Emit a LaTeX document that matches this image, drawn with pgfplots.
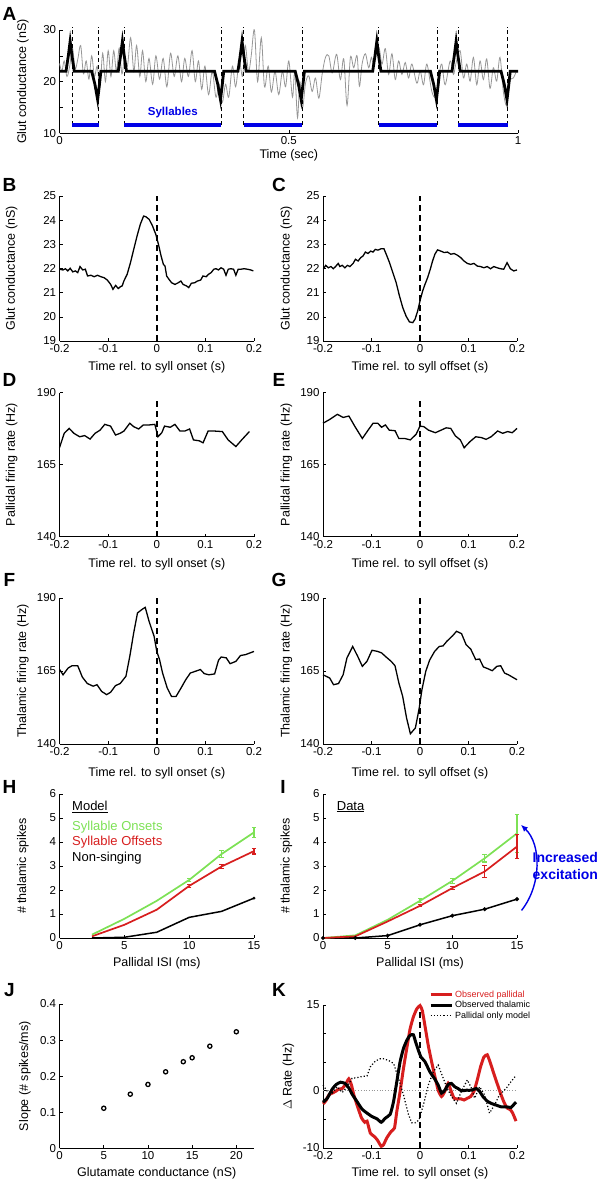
\documentclass[border=0pt]{standalone}
\usepackage{fontspec}
\setmainfont{Liberation Sans}
\usepackage{pgfplots}
\pgfplotsset{compat=1.18}
\usetikzlibrary{arrows.meta}

\definecolor{sylblue}{RGB}{0,0,230}
\definecolor{lgreen}{RGB}{125,225,85}
\definecolor{mred}{RGB}{215,30,30}
\definecolor{tgray}{RGB}{150,150,150}

\pgfplotsset{
  panel/.style={
    scale only axis, anchor=south west,
    axis x line*=bottom, axis y line*=left,
    tick align=inside, major tick length=3pt,
    every tick/.append style={black, line width=0.6pt},
    axis line style={line width=0.7pt},
    tick label style={font=\fontsize{11.5}{12}\selectfont},
    label style={font=\fontsize{12.5}{14}\selectfont},
    /pgf/number format/assume math mode=true,
    clip=false,
  },
  ylab/.style={ylabel style={at={([xshift=#1]axis description cs:0,0.5)}, anchor=center}},
  xlab/.style={xlabel style={at={([yshift=#1]axis description cs:0.5,0)}, anchor=center}},
  reltime/.style={xmin=-0.2, xmax=0.2, xtick={-0.2,-0.1,0,0.1,0.2},
    xticklabels={-0.2,-0.1,0,0.1,0.2}},
  zline/.style={black, line width=1.6pt, dash pattern=on 6pt off 4pt, forget plot},
  trace/.style={black, line width=1.3pt},
}

\begin{document}
\begin{tikzpicture}
\useasboundingbox (0pt,0pt) rectangle (604pt,1184pt);

% ---------- A ----------
\begin{axis}[panel, at={(59.6pt,1050.7pt)}, width=458.4pt, height=103.3pt,
  xmin=0, xmax=1, ymin=10, ymax=30,
  xtick={0,0.5,1}, xticklabels={0,0.5,1},
  ytick={10,15,20,25,30}, yticklabels={10,,20,,30},
  xlabel={Time (sec)}, ylabel={Glut conductance (nS)}, ylab=-36.6pt, xlab=-22pt]
\addplot[tgray, line width=0.8pt, smooth, tension=0.55] coordinates {
(0.000,23.5) (0.005,22.0) (0.010,24.0) (0.016,21.0) (0.022,23.0) (0.028,26.5)
(0.034,22.5) (0.040,24.5) (0.046,27.0) (0.052,21.5) (0.058,24.0) (0.064,20.5)
(0.070,25.0) (0.076,21.0) (0.082,23.0) (0.088,19.0) (0.094,25.5) (0.100,20.0)
(0.106,26.0) (0.112,21.0) (0.118,26.0) (0.124,22.0) (0.130,26.5) (0.136,21.5)
(0.142,25.0) (0.148,23.0) (0.155,28.5) (0.162,22.0) (0.168,27.0) (0.175,21.0)
(0.181,26.0) (0.188,20.0) (0.195,24.5) (0.203,19.5) (0.210,25.0) (0.218,20.5)
(0.226,24.5) (0.234,19.0) (0.242,25.5) (0.250,21.0) (0.258,25.0) (0.266,20.0)
(0.273,24.5) (0.281,21.0) (0.289,26.0) (0.296,20.0) (0.303,24.0) (0.310,18.5)
(0.317,23.0) (0.325,17.5) (0.333,22.0) (0.341,17.0) (0.348,19.5) (0.355,16.0)
(0.362,19.5) (0.369,17.0) (0.377,23.0) (0.384,19.0) (0.392,24.0) (0.399,21.0)
(0.405,27.0) (0.412,22.0) (0.418,25.0) (0.425,30.0) (0.432,20.0) (0.440,28.5)
(0.447,19.0) (0.455,23.0) (0.462,18.0) (0.470,22.0) (0.478,17.5) (0.486,22.0)
(0.493,19.0) (0.500,24.0) (0.508,17.0) (0.513,22.0) (0.519,13.0) (0.524,20.0)
(0.530,15.0) (0.5365,19.7) (0.5437,21.1) (0.5510,18.1) (0.5582,20.7) (0.5655,16.8)
(0.5727,21.4) (0.5800,24.7) (0.5872,25.0) (0.5945,21.7) (0.6017,24.7) (0.6054,25.0)
(0.6126,20.4) (0.6199,24.4) (0.6271,15.4) (0.6344,24.7) (0.6416,22.7) (0.6489,25.0)
(0.6540,19.1) (0.6598,23.4) (0.6671,25.4) (0.6743,22.7) (0.6801,24.7) (0.6852,23.4)
(0.6960,26.7) (0.7033,23.4) (0.7105,26.4) (0.7178,21.4) (0.7250,25.4) (0.7323,20.4)
(0.7395,24.0) (0.7468,21.4) (0.7540,23.7) (0.7613,20.7) (0.7685,23.4) (0.7794,19.7)
(0.7866,22.1) (0.7939,19.4) (0.8012,23.4) (0.8120,18.1) (0.8208,17.1) (0.8280,21.4)
(0.8338,23.4) (0.8411,19.4) (0.8520,24.0) (0.8592,21.4) (0.8643,23.4) (0.8737,26.0)
(0.8810,20.7) (0.8882,23.4) (0.8955,20.1) (0.9027,24.7) (0.9100,19.4) (0.9172,24.0)
(0.9245,20.4) (0.9317,24.4) (0.9390,18.7) (0.9462,22.7) (0.9535,20.1) (0.9607,24.7)
(0.9680,18.1) (0.9753,15.4) (0.9825,20.1) (0.9898,20.7) (0.9970,22.1)
};
\addplot[black, line width=2.8pt] coordinates {
(0,22) (0.014,22) (0.019,25) (0.023,27.8) (0.027,25) (0.032,22)
(0.070,22) (0.077,19.5) (0.083,16.5) (0.087,19.5) (0.090,22)
(0.128,22) (0.133,25) (0.137,27.8) (0.141,25) (0.146,22)
(0.338,22) (0.345,19.5) (0.351,16.5) (0.355,19.5) (0.358,22)
(0.389,22) (0.394,25) (0.398,27.8) (0.402,25) (0.407,22)
(0.514,22) (0.521,19.5) (0.527,16.5) (0.531,19.5) (0.534,22)
(0.683,22) (0.688,25) (0.692,27.8) (0.696,25) (0.701,22)
(0.809,22) (0.816,19.5) (0.822,16.5) (0.826,19.5) (0.829,22)
(0.856,22) (0.861,25) (0.865,27.8) (0.869,25) (0.874,22)
(0.963,22) (0.970,19.5) (0.976,16.5) (0.980,19.5) (0.983,22) (1,22)
};
\foreach \t in {0.027,0.085,0.141,0.353,0.402,0.529,0.696,0.824,0.869,0.978}{
  \edef\tmp{\noexpand\addplot[black, line width=0.9pt, dash pattern=on 4pt off 3pt]
    coordinates {(\t,11.6) (\t,30.6)};}
  \tmp
}
\addplot[sylblue, line width=3.5pt] coordinates {(0.027,11.6) (0.085,11.6)};
\addplot[sylblue, line width=3.5pt] coordinates {(0.141,11.6) (0.353,11.6)};
\addplot[sylblue, line width=3.5pt] coordinates {(0.402,11.6) (0.529,11.6)};
\addplot[sylblue, line width=3.5pt] coordinates {(0.696,11.6) (0.824,11.6)};
\addplot[sylblue, line width=3.5pt] coordinates {(0.869,11.6) (0.978,11.6)};
\node[sylblue, font=\bfseries\fontsize{11.5}{12}\selectfont] at (axis cs:0.247,14.1) {Syllables};
\end{axis}

% ---------- B ----------
\begin{axis}[panel, reltime, at={(59.6pt,843pt)}, width=194.4pt, height=145pt,
  ymin=19, ymax=25, ytick={19,...,25},
  xlabel={Time rel. to syll onset (s)}, ylabel={Glut conductance (nS)}, ylab=-48pt, xlab=-26pt]
\addplot[zline] coordinates {(0,19) (0,25)};
\addplot[trace] coordinates {
(-0.2,21.97) (-0.1932,21.94) (-0.1878,21.99) (-0.1831,21.90) (-0.1783,22.01) (-0.1729,21.86)
(-0.1675,21.90) (-0.1627,21.83) (-0.1580,22.08) (-0.1525,21.94) (-0.1471,21.97) (-0.1424,21.69)
(-0.1356,21.72) (-0.1288,21.66) (-0.1220,21.72) (-0.1153,21.66) (-0.1085,21.62) (-0.1017,21.52)
(-0.0949,21.34) (-0.0902,21.14) (-0.0847,21.30) (-0.0793,21.17) (-0.0746,21.25) (-0.0712,21.28)
(-0.0678,21.48) (-0.0610,21.76) (-0.0542,22.24) (-0.0475,22.79) (-0.0407,23.34) (-0.0339,23.83)
(-0.0271,24.17) (-0.0224,24.14) (-0.0156,24.03) (-0.0088,23.76) (-0.0020,23.41) (0.0034,23.0)
(0.0088,22.52) (0.0136,22.17) (0.0169,22.10) (0.0203,21.69) (0.0251,21.55) (0.0305,21.41)
(0.0373,21.34) (0.0441,21.41) (0.0495,21.48) (0.0542,21.34) (0.0610,21.28) (0.0658,21.21)
(0.0712,21.39) (0.0780,21.41) (0.0834,21.48) (0.0902,21.52) (0.0949,21.69) (0.1017,21.66)
(0.1064,21.76) (0.1119,21.83) (0.1173,21.97) (0.1220,21.99) (0.1268,21.94) (0.1322,22.03)
(0.1376,21.97) (0.1424,21.72) (0.1471,21.97) (0.1525,21.99) (0.1580,21.97) (0.1627,21.72)
(0.1675,21.97) (0.1729,21.97) (0.1797,21.99) (0.1864,21.97) (0.1932,21.94) (0.1986,21.90)
};
\end{axis}

% ---------- C ----------
\begin{axis}[panel, reltime, at={(323pt,843pt)}, width=194pt, height=145pt,
  ymin=19, ymax=25, ytick={19,...,25},
  xlabel={Time rel. to syll offset (s)}, ylabel={Glut conductance (nS)}, ylab=-36.5pt, xlab=-26pt]
\addplot[zline] coordinates {(0,19) (0,25)};
\addplot[trace] coordinates {
(-0.1993,21.97) (-0.1945,22.13) (-0.1891,22.03) (-0.1836,22.08) (-0.1788,21.99) (-0.1741,22.08)
(-0.1686,22.21) (-0.1652,22.08) (-0.1604,22.13) (-0.1549,22.03) (-0.1495,22.13) (-0.1447,22.08)
(-0.1379,22.21) (-0.1331,22.38) (-0.1276,22.31) (-0.1222,22.45) (-0.1174,22.52) (-0.1126,22.68)
(-0.1072,22.62) (-0.1017,22.72) (-0.0969,22.68) (-0.0922,22.79) (-0.0867,22.76) (-0.0799,22.82)
(-0.0744,22.82) (-0.0696,22.59) (-0.0628,22.24) (-0.0560,21.83) (-0.0491,21.41) (-0.0423,20.86)
(-0.0355,20.38) (-0.0287,20.03) (-0.0218,19.79) (-0.0150,19.76) (-0.0102,19.90) (-0.0048,20.24)
(0.0007,20.72) (0.0055,21.07) (0.0102,21.34) (0.0157,21.62) (0.0212,21.97) (0.0259,22.31)
(0.0307,22.59) (0.0362,22.77) (0.0430,22.72) (0.0498,22.66) (0.0567,22.68) (0.0635,22.59)
(0.0703,22.62) (0.0771,22.55) (0.0840,22.45) (0.0908,22.31) (0.0976,22.21) (0.1044,22.17)
(0.1113,22.21) (0.1181,22.10) (0.1249,22.08) (0.1317,22.03) (0.1386,22.08) (0.1454,21.99)
(0.1522,22.08) (0.1590,22.03) (0.1659,21.99) (0.1727,21.97) (0.1795,22.24) (0.1863,21.99)
(0.1932,21.90) (0.2,21.94)
};
\end{axis}

% ---------- D ----------
\begin{axis}[panel, reltime, at={(59.6pt,647.3pt)}, width=194.4pt, height=144pt,
  ymin=140, ymax=190, ytick={140,165,190},
  xlabel={Time rel. to syll onset (s)}, ylabel={Pallidal firing rate (Hz)}, ylab=-48pt, xlab=-28pt]
\addplot[zline] coordinates {(0,140) (0,188)};
\addplot[trace] coordinates {
(-0.2,171.0) (-0.1905,175.9) (-0.1802,177.6) (-0.1706,175.9) (-0.1587,174.7) (-0.1484,175.1)
(-0.1373,173.9) (-0.1270,175.9) (-0.1167,177.0) (-0.1071,179.0) (-0.0952,178.4) (-0.0849,175.3)
(-0.0754,175.9) (-0.0675,176.7) (-0.0556,179.4) (-0.0476,178.2) (-0.0373,177.4) (-0.0278,178.8)
(-0.0159,178.8) (-0.0040,179.0) (0.0024,174.7) (0.0103,176.1) (0.0159,178.4) (0.0278,178.0)
(0.0373,179.0) (0.0476,176.7) (0.0579,176.7) (0.0675,177.4) (0.0754,173.6) (0.0873,173.3)
(0.0952,172.6) (0.1056,176.7) (0.1167,176.7) (0.1349,176.5) (0.1468,173.6) (0.1627,171.3)
(0.1746,173.6) (0.1905,176.5)
};
\end{axis}

% ---------- E ----------
\begin{axis}[panel, reltime, at={(323pt,647.3pt)}, width=194pt, height=144pt,
  ymin=140, ymax=190, ytick={140,165,190},
  xlabel={Time rel. to syll offset (s)}, ylabel={Pallidal firing rate (Hz)}, ylab=-36.5pt, xlab=-28pt]
\addplot[zline] coordinates {(0,140) (0,188)};
\addplot[trace] coordinates {
(-0.2,179.4) (-0.1862,180.7) (-0.1704,182.5) (-0.1585,181.4) (-0.1466,181.9) (-0.1347,178.4)
(-0.1189,174.1) (-0.1070,177.0) (-0.0967,179.4) (-0.0872,179.4) (-0.0792,178.0) (-0.0713,178.8)
(-0.0634,177.0) (-0.0515,176.8) (-0.0436,174.1) (-0.0317,174.1) (-0.0198,173.6) (-0.0079,175.6)
(0,178.4) (0.0079,178.2) (0.0174,177.0) (0.0317,176.1) (0.0436,177.0) (0.0539,177.8)
(0.0634,177.6) (0.0729,175.0) (0.0832,173.6) (0.0911,170.9) (0.1030,173.0) (0.1149,174.7)
(0.1268,174.4) (0.1363,173.8) (0.1466,174.7) (0.1601,176.7) (0.1704,175.9) (0.1807,176.5)
(0.1902,176.1) (0.2,177.6)
};
\end{axis}

% ---------- F ----------
\begin{axis}[panel, reltime, at={(59.6pt,440pt)}, width=194.4pt, height=146pt,
  ymin=140, ymax=190, ytick={140,165,190},
  xlabel={Time rel. to syll onset (s)}, ylabel={Thalamic firing rate (Hz)}, ylab=-36.6pt, xlab=-29pt]
\addplot[zline] coordinates {(0,140) (0,190)};
\addplot[trace] coordinates {
(-0.2,165.5) (-0.1929,163.7) (-0.1825,166.0) (-0.1746,166.8) (-0.1627,166.8) (-0.1532,162.9)
(-0.1429,160.7) (-0.1310,159.8) (-0.1230,160.3) (-0.1135,158.0) (-0.1032,156.9) (-0.0952,157.7)
(-0.0849,160.0) (-0.0754,160.7) (-0.0635,163.2) (-0.0556,170.0) (-0.0476,178.0) (-0.0397,184.9)
(-0.0294,186.2) (-0.0238,186.8) (-0.0159,182.0) (-0.0056,176.9) (0,171.7) (0.0056,168.9)
(0.0119,164.3) (0.0214,159.2) (0.0302,156.3) (0.0397,156.3) (0.0500,159.2) (0.0595,162.0)
(0.0690,164.3) (0.0794,164.9) (0.0897,165.5) (0.0976,164.1) (0.1071,163.7) (0.1190,164.0)
(0.1270,168.7) (0.1325,169.8) (0.1429,169.5) (0.1508,167.5) (0.1627,168.3) (0.1722,170.3)
(0.1825,170.6) (0.2,171.7)
};
\end{axis}

% ---------- G ----------
\begin{axis}[panel, reltime, at={(323pt,440pt)}, width=194pt, height=146pt,
  ymin=140, ymax=190, ytick={140,165,190},
  xlabel={Time rel. to syll offset (s)}, ylabel={Thalamic firing rate (Hz)}, ylab=-36.5pt, xlab=-29pt]
\addplot[zline] coordinates {(0,140) (0,190)};
\addplot[trace] coordinates {
(-0.2,163.7) (-0.1862,162.6) (-0.1783,160.3) (-0.1680,160.7) (-0.1585,163.7) (-0.1506,169.5)
(-0.1387,173.4) (-0.1284,170.0) (-0.1189,166.6) (-0.1094,168.3) (-0.0990,172.1) (-0.0872,171.7)
(-0.0792,171.2) (-0.0713,170.0) (-0.0594,168.3) (-0.0515,166.8) (-0.0436,160.9) (-0.0357,156.3)
(-0.0277,148.9) (-0.0198,143.5) (-0.0095,145.5) (-0.0016,152.3) (0.0040,158.6) (0.0119,164.9)
(0.0198,168.7) (0.0301,171.7) (0.0396,173.4) (0.0475,173.6) (0.0555,175.2) (0.0674,177.1)
(0.0753,178.6) (0.0856,177.8) (0.0951,174.0) (0.1046,172.5) (0.1149,168.9) (0.1228,169.1)
(0.1307,166.4) (0.1410,165.7) (0.1490,165.1) (0.1585,166.6) (0.1664,166.8) (0.1743,164.3)
(0.1823,163.7) (0.2,162.0)
};
\end{axis}

% ---------- H ----------
\begin{axis}[panel, at={(59.6pt,246pt)}, width=194.4pt, height=144pt,
  xmin=0, xmax=15, ymin=0, ymax=6, xtick={0,5,10,15}, ytick={0,...,6},
  xlabel={Pallidal ISI (ms)}, ylabel={\# thalamic spikes}, ylab=-36.6pt, xlab=-25pt]
\addplot[black, line width=1.5pt] coordinates {(2.5,0) (5,0.03) (7.5,0.24) (10,0.86) (12.5,1.11) (15,1.66)};
\addplot[black, only marks, mark=*, mark size=1.3pt] coordinates {(15,1.66)};
\addplot[mred, line width=1.7pt, error bars/.cd, y dir=both, y explicit,
  error bar style={line width=1.3pt}, error mark options={rotate=90, mark size=2.2pt, line width=1.2pt}]
  coordinates {(2.5,0.07) (5,0.55) (7.5,1.18) (10,2.17) +- (0,0.05) (12.5,2.98) +- (0,0.08) (15,3.62) +- (0,0.12)};
\addplot[lgreen, line width=1.7pt, error bars/.cd, y dir=both, y explicit,
  error bar style={line width=1.3pt}, error mark options={rotate=90, mark size=2.2pt, line width=1.2pt}]
  coordinates {(2.5,0.14) (5,0.80) (7.5,1.55) (10,2.42) +- (0,0.06) (12.5,3.50) +- (0,0.13) (15,4.40) +- (0,0.22)};
\node[anchor=west, font=\fontsize{13}{14}\selectfont] at (axis cs:0.7,5.47) {\underline{Model}};
\node[anchor=west, lgreen, font=\fontsize{13}{14}\selectfont] at (axis cs:0.7,4.64) {Syllable Onsets};
\node[anchor=west, mred, font=\fontsize{13}{14}\selectfont] at (axis cs:0.7,3.99) {Syllable Offsets};
\node[anchor=west, font=\fontsize{13}{14}\selectfont] at (axis cs:0.7,3.32) {Non-singing};
\end{axis}

% ---------- I ----------
\begin{axis}[panel, at={(323pt,246pt)}, width=194pt, height=144pt,
  xmin=0, xmax=15, ymin=0, ymax=6, xtick={0,5,10,15}, ytick={0,...,6},
  xlabel={Pallidal ISI (ms)}, ylabel={\# thalamic spikes}, ylab=-36.5pt, xlab=-25pt]
\addplot[black, line width=1.5pt, mark=*, mark size=1.1pt] coordinates {(0,0) (2.5,0) (5,0.1) (7.5,0.55) (10,0.93) (12.5,1.2) (15,1.62)};
\addplot[lgreen, line width=1.7pt, error bars/.cd, y dir=both, y explicit,
  error bar style={line width=1.3pt}, error mark options={rotate=90, mark size=2.2pt, line width=1.2pt}]
  coordinates {(0,0) (2.5,0.11) (5,0.76) (7.5,1.55) +- (0,0.08) (10,2.38) +- (0,0.1) (12.5,3.32) +- (0,0.15) (15,4.36) +- (0,0.8)};
\addplot[mred, line width=1.7pt, error bars/.cd, y dir=both, y explicit,
  error bar style={line width=1.3pt}, error mark options={rotate=90, mark size=2.2pt, line width=1.2pt}]
  coordinates {(0,0) (2.5,0.07) (5,0.69) (7.5,1.34) +- (0,0.04) (10,2.08) +- (0,0.07) (12.5,2.77) +- (0,0.25) (15,3.81) +- (0,0.5)};
\node[anchor=west, font=\fontsize{13}{14}\selectfont] at (axis cs:0.8,5.47) {\underline{Data}};
\draw[sylblue, line width=1.4pt, -{Latex[length=7pt,width=6pt]}] (axis cs:15.35,1.15) .. controls (axis cs:16.9,2.2) and (axis cs:16.9,3.9) .. (axis cs:15.3,4.72);
\node[sylblue, align=center, font=\bfseries\fontsize{14}{17}\selectfont] at (axis cs:18.74,2.98) {Increased\\excitation};
\end{axis}

% ---------- J ----------
\begin{axis}[panel, at={(59.6pt,35.7pt)}, width=194.4pt, height=144.3pt,
  xmin=0, xmax=22, ymin=0, ymax=0.4, xtick={0,5,10,15,20},
  ytick={0,0.1,0.2,0.3,0.4}, yticklabels={0,0.1,0.2,0.3,0.4},
  xlabel={Glutamate conductance (nS)}, ylabel={Slope (\# spikes/ms)}, ylab=-34.6pt, xlab=-25pt]
\addplot[black, only marks, mark=o, mark size=2.1pt, mark options={line width=1.3pt}] coordinates {
(5,0.111) (8,0.150) (10,0.177) (12,0.212) (14,0.240) (15,0.251) (17,0.283) (20,0.323)
};
\end{axis}

% ---------- K ----------
\begin{axis}[panel, reltime, at={(323pt,36pt)}, width=194pt, height=143pt,
  ymin=-10, ymax=15, ytick={-10,-5,0,5,10,15}, yticklabels={-10,,0,,,15},
  xlabel={Time rel. to syll onset (s)}, ylabel={$\Delta$ Rate (Hz)}, ylab=-34.5pt, xlab=-25pt,
  legend style={at={(axis description cs:0.546,1.115)}, anchor=north west, draw=none, fill=none,
    inner sep=0pt, font=\fontsize{9}{10}\selectfont, row sep=-1.5pt},
  legend cell align=left,
  legend image code/.code={\draw[#1] (0pt,0pt) -- (21pt,0pt);}]
\addplot[tgray, line width=0.7pt, dotted, forget plot] coordinates {(-0.2,0) (0.2,0)};
\addplot[zline] coordinates {(0,-10) (0,15)};
\addplot[mred, line width=3pt, smooth, tension=0.3] coordinates {
(-0.2,-2.3) (-0.1945,-1.8) (-0.1877,-0.7) (-0.1809,-0.4) (-0.1741,-0.1) (-0.1672,0.3)
(-0.1604,0.4) (-0.1536,1.1) (-0.1468,2.1) (-0.1413,1.0) (-0.1365,-0.7) (-0.1297,-2.5)
(-0.1208,-4.7) (-0.1140,-5.5) (-0.1092,-5.3) (-0.1024,-7.4) (-0.0956,-7.9) (-0.0887,-8.5)
(-0.0799,-9.7) (-0.0751,-9.4) (-0.0683,-8.2) (-0.0594,-7.1) (-0.0526,-6.5) (-0.0478,-3.6)
(-0.0410,-0.1) (-0.0341,3.9) (-0.0273,7.4) (-0.0205,10.8) (-0.0137,12.9) (-0.0068,14.3)
(0,14.9) (0.0048,14.0) (0.0102,11.4) (0.0171,7.9) (0.0239,5.1) (0.0307,2.5)
(0.0375,0.1) (0.0444,-1.0) (0.0512,-0.1) (0.0580,1.3) (0.0635,0.1) (0.0703,-1.3)
(0.0771,-1.4) (0.0840,-1.4) (0.0908,-1.6) (0.0976,-1.3) (0.1044,-1.0) (0.1113,-0.1)
(0.1181,1.9) (0.1249,4.2) (0.1317,5.9) (0.1386,6.3) (0.1454,4.8) (0.1522,3.0)
(0.1590,1.3) (0.1659,-0.4) (0.1727,-1.9) (0.1795,-3.0) (0.1863,-3.3) (0.1911,-3.9)
(0.1980,-5.3)
};
\addlegendentry{\textcolor{mred}{Observed pallidal}}
\addplot[black, line width=3pt, smooth, tension=0.3] coordinates {
(-0.2,-2.0) (-0.1911,-1.3) (-0.1809,0.3) (-0.1727,1.1) (-0.1638,1.5) (-0.1549,1.3)
(-0.1468,0.5) (-0.1399,-0.6) (-0.1297,-1.9) (-0.1195,-3.2) (-0.1092,-3.9) (-0.0990,-4.5)
(-0.0887,-4.9) (-0.0799,-5.5) (-0.0717,-4.8) (-0.0614,-4.1) (-0.0546,-1.9) (-0.0478,1.6)
(-0.0410,5.1) (-0.0341,7.4) (-0.0273,8.8) (-0.0205,9.7) (-0.0137,9.8) (-0.0089,8.5)
(-0.0034,7.1) (0.0020,5.9) (0.0102,5.1) (0.0205,3.3) (0.0294,2.2) (0.0375,1.0)
(0.0444,-0.4) (0.0512,0.1) (0.0580,1.1) (0.0648,1.3) (0.0717,0.7) (0.0785,0.4)
(0.0853,0.0) (0.0956,0.1) (0.1058,0.1) (0.1160,0.4) (0.1229,-0.1) (0.1297,-1.0)
(0.1386,-1.8) (0.1468,-2.2) (0.1570,-2.5) (0.1672,-2.8) (0.1775,-2.8) (0.1877,-2.9)
(0.1945,-2.3) (0.1980,-2.0)
};
\addlegendentry{Observed thalamic}
\addplot[black, line width=1.2pt, dotted] coordinates {
(-0.2,1.0) (-0.1911,-0.1) (-0.1809,-0.4) (-0.1706,0.7) (-0.1604,-0.3) (-0.1502,0.7)
(-0.1399,2.2) (-0.1297,2.3) (-0.1195,2.5) (-0.1092,2.6) (-0.1024,4.2) (-0.0922,5.2)
(-0.0819,5.6) (-0.0751,5.6) (-0.0648,5.3) (-0.0546,4.8) (-0.0444,2.2) (-0.0341,-0.7)
(-0.0239,-4.1) (-0.0171,-5.6) (-0.0102,-5.6) (-0.0020,-5.1) (0.0068,-2.5) (0.0171,1.0)
(0.0273,3.3) (0.0375,4.5) (0.0444,3.0) (0.0546,0.7) (0.0648,-1.0) (0.0751,-2.2)
(0.0853,-0.1) (0.0976,1.9) (0.1058,0.5) (0.1126,-1.3) (0.1229,0.7) (0.1331,-0.7)
(0.1433,-3.9) (0.1536,-2.5) (0.1638,-0.7) (0.1775,0.4) (0.1877,1.6) (0.1980,2.7)
};
\addlegendentry{Pallidal only model}
\end{axis}

% panel letters
\foreach \l/\x/\y in {A/9.5/1170, B/9.5/999, C/279/999, D/9.5/804, E/279/804,
  F/9.5/604, G/279/604, H/9.5/397, I/283/397, J/9.5/194, K/279/194}{
  \node[font=\bfseries\fontsize{19}{19}\selectfont] at (\x pt,\y pt) {\l};
}
\end{tikzpicture}
\end{document}
